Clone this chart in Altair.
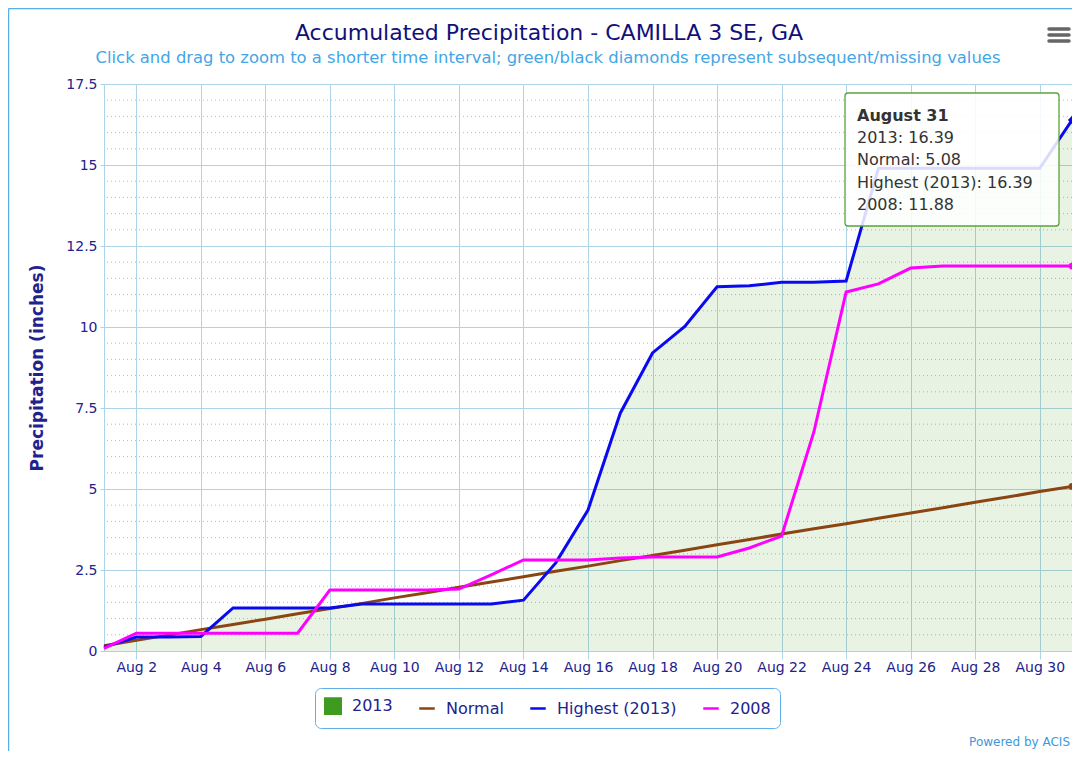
import altair as alt
import pandas as pd

# ---------------- data ----------------
days = list(range(1, 32))
obs_2013 = [0.12, 0.43, 0.43, 0.45, 1.33, 1.33, 1.33, 1.33, 1.45, 1.45, 1.45, 1.45, 1.45, 1.57,
            2.72, 4.35, 7.34, 9.20, 10.02, 11.24, 11.27, 11.38, 11.38, 11.42,
            14.90, 14.90, 14.90, 14.90, 14.90, 14.90, 16.39]
highest_2013 = [0.12, 0.43, 0.43, 0.45, 1.33, 1.33, 1.33, 1.33, 1.45, 1.45, 1.45, 1.45, 1.45, 1.57,
                2.72, 4.35, 7.34, 9.20, 10.02, 11.24, 11.27, 11.38, 11.38, 11.42,
                14.90, 14.90, 14.90, 14.90, 14.90, 14.90, 16.39]
normal = [0.16, 0.33, 0.49, 0.66, 0.82, 0.98, 1.15, 1.31, 1.47, 1.64, 1.80, 1.97, 2.13, 2.29, 2.46,
          2.62, 2.79, 2.95, 3.11, 3.28, 3.44, 3.61, 3.77, 3.93, 4.10, 4.26, 4.42, 4.59, 4.75, 4.92, 5.08]
y2008 = [0.08, 0.55, 0.55, 0.55, 0.55, 0.55, 0.55, 1.88, 1.88, 1.88, 1.88, 1.91, 2.35, 2.81, 2.81,
         2.81, 2.87, 2.90, 2.90, 2.90, 3.18, 3.55, 6.76, 11.08, 11.33, 11.82, 11.88, 11.88, 11.88,
         11.88, 11.88]

series_names = ["2013", "Normal", "Highest (2013)", "2008"]
series_colors = ["#3f9b1f", "#8b4513", "#0a0af0", "#ff00ff"]
legend_shapes = ["square", "stroke", "stroke", "stroke"]

x_ticks = [2, 4, 6, 8, 10, 12, 14, 16, 18, 20, 22, 24, 26, 28, 30]
y_major = [0, 2.5, 5, 7.5, 10, 12.5, 15, 17.5]
y_minor = [0.5, 1, 1.5, 2, 3, 3.5, 4, 4.5, 5.5, 6, 6.5, 7, 8, 8.5, 9, 9.5, 10.5, 11, 11.5, 12,
           13, 13.5, 14, 14.5, 15.5, 16, 16.5, 17]

title_text = "Accumulated Precipitation - CAMILLA 3 SE, GA"
subtitle_text = ("Click and drag to zoom to a shorter time interval; "
                 "green/black diamonds represent subsequent/missing values")
tip_header = "August 31"

# ---------------- tables ----------------
area_df = pd.DataFrame({"day": days, "value": obs_2013})
normal_df = pd.DataFrame({"day": days, "value": normal})
highest_df = pd.DataFrame({"day": days, "value": highest_2013})
y2008_df = pd.DataFrame({"day": days, "value": y2008})
legend_df = pd.DataFrame({"series": series_names})
minor_df = pd.DataFrame({"value": y_minor})
one_row = pd.DataFrame({"k": [0]})

tip_lines = "\n".join([
    f"2013: {obs_2013[-1]:.2f}",
    f"Normal: {normal[-1]:.2f}",
    f"Highest (2013): {highest_2013[-1]:.2f}",
    f"2008: {y2008[-1]:.2f}",
])

# ---------------- styling ----------------
W, H = 968, 567
FONT = "DejaVu Sans"
NAVY = "#22228c"
GRID = "#afd3e6"
C2013, CNORM, CHIGH, C2008 = series_colors

x_scale = alt.Scale(domain=[1, 31], nice=False, zero=False)
y_scale = alt.Scale(domain=[0, 17.5], nice=False)

x_axis = alt.Axis(values=x_ticks, labelExpr="'Aug ' + datum.value", title=None, grid=True,
                  gridColor=GRID, tickSize=8, tickColor=GRID, domainColor=GRID,
                  labelColor=NAVY, labelFont=FONT, labelFontSize=14, labelPadding=1,
                  labelFlush=False, labelOverlap=False)
y_axis = alt.Axis(values=y_major, format=".1~f", title="Precipitation (inches)", grid=True,
                  gridColor=GRID, tickSize=4, tickColor=GRID, domainColor=GRID,
                  labelColor=NAVY, labelFont=FONT, labelFontSize=14, labelPadding=3,
                  titleFont=FONT, titleFontSize=17, titleFontWeight="bold", titleColor=NAVY,
                  titlePadding=19)

legend = alt.Legend(title=None, orient="none", legendX=211, legendY=604, direction="horizontal",
                    columns=4, padding=9, strokeColor="#62aee6", cornerRadius=6,
                    fillColor="white", labelFont=FONT, labelFontSize=16, labelColor=NAVY,
                    symbolSize=240, symbolStrokeWidth=2.5, columnPadding=21, labelOffset=10,
                    symbolOpacity=1)

X = alt.X("day:Q", scale=x_scale, axis=x_axis)
Y = alt.Y("value:Q", scale=y_scale, axis=y_axis)

# ---------------- layers ----------------
minor_grid = alt.Chart(minor_df).mark_rule(color="#b9b9b9", strokeDash=[1, 3],
                                           strokeWidth=1).encode(y=Y)

area = alt.Chart(area_df).mark_area(color=C2013, opacity=0.12).encode(x=X, y=Y)

line_normal = alt.Chart(normal_df).mark_line(color=CNORM, strokeWidth=3).encode(x=X, y=Y)
line_high = alt.Chart(highest_df).mark_line(color=CHIGH, strokeWidth=3).encode(x=X, y=Y)
line_2008 = alt.Chart(y2008_df).mark_line(color=C2008, strokeWidth=3).encode(x=X, y=Y)

end_high = alt.Chart(highest_df).transform_filter("datum.day == 31").mark_point(
    shape="diamond", filled=True, size=70, opacity=1, color=CHIGH).encode(x=X, y=Y)
end_normal = alt.Chart(normal_df).transform_filter("datum.day == 31").mark_point(
    shape="circle", filled=True, size=45, opacity=1, color=CNORM).encode(x=X, y=Y)
end_2008 = alt.Chart(y2008_df).transform_filter("datum.day == 31").mark_point(
    shape="circle", filled=True, size=45, opacity=1, color=C2008).encode(x=X, y=Y)

legend_scale = alt.Scale(domain=series_names, range=series_colors)
legend_layer = alt.Chart(legend_df).mark_point(filled=True, opacity=0).encode(
    fill=alt.Fill("series:N", scale=legend_scale, legend=legend),
    stroke=alt.Stroke("series:N", scale=legend_scale, legend=legend),
    shape=alt.Shape("series:N", scale=alt.Scale(domain=series_names, range=legend_shapes),
                    legend=legend),
)

tip_box = alt.Chart(one_row).mark_rect(fill="white", fillOpacity=0.85, stroke="#5ba339",
                                       strokeWidth=1.3, cornerRadius=3).encode(
    x=alt.value(741), x2=alt.value(955), y=alt.value(9), y2=alt.value(142))
tip_head = alt.Chart(one_row).mark_text(align="left", baseline="alphabetic", font=FONT,
                                        fontSize=16, fontWeight="bold", color="#333333").encode(
    x=alt.value(753), y=alt.value(37), text=alt.value(tip_header))
tip_body = alt.Chart(one_row).mark_text(align="left", baseline="alphabetic", font=FONT,
                                        fontSize=16, color="#333333", lineBreak="\n",
                                        lineHeight=22.4).encode(
    x=alt.value(753), y=alt.value(59), text=alt.value(tip_lines))

title_mark = alt.Chart(one_row).mark_text(align="center", baseline="alphabetic", font=FONT,
                                          fontSize=22, color="#10107a").encode(
    x=alt.value(445), y=alt.value(-44), text=alt.value(title_text))
subtitle_mark = alt.Chart(one_row).mark_text(align="center", baseline="alphabetic", font=FONT,
                                             fontSize=16.4, color="#43a6e6").encode(
    x=alt.value(444), y=alt.value(-21), text=alt.value(subtitle_text))

credit = alt.Chart(one_row).mark_text(align="right", baseline="middle", font=FONT, fontSize=12,
                                      color="#3a9ae0").encode(
    x=alt.value(966), y=alt.value(658), text=alt.value("Powered by ACIS"))

menu = [alt.Chart(one_row).mark_rule(color="#666666", strokeWidth=3.5, strokeCap="round").encode(
    x=alt.value(945), x2=alt.value(965), y=alt.value(yy)) for yy in (-55, -49, -43)]

frame_left = alt.Chart(one_row).mark_rule(color="#5aaee8", strokeWidth=1.5).encode(
    x=alt.value(-95.5), y=alt.value(-75.5), y2=alt.value(667))
frame_top = alt.Chart(one_row).mark_rule(color="#5aaee8", strokeWidth=1.5).encode(
    x=alt.value(-95.5), x2=alt.value(968), y=alt.value(-75.5))

chart = alt.layer(
    minor_grid, area, line_normal, line_high, line_2008, end_high, end_normal, end_2008,
    legend_layer, tip_box, tip_head, tip_body, title_mark, subtitle_mark, credit, *menu,
    frame_left, frame_top
).properties(
    width=W, height=H,
    autosize=alt.AutoSizeParams(type="none"),
    padding={"left": 96, "top": 76, "right": 0, "bottom": 100},
).configure_view(stroke="#a3c3d6", strokeWidth=1).configure(background="white")

chart.save("out.html", embed_options={"renderer": "svg", "actions": False})
